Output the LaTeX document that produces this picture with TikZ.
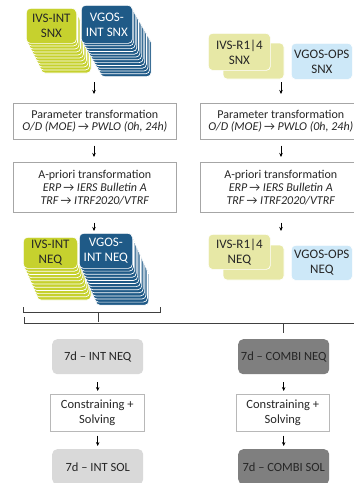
\documentclass[tikz,border=0pt]{standalone}
\usepackage{fontspec}
\setmainfont{Carlito}
\usetikzlibrary{arrows.meta}
\definecolor{limec}{HTML}{C6D12E}
\definecolor{bluec}{HTML}{1F5A87}
\definecolor{palec}{HTML}{E7E8A6}
\definecolor{lbluec}{HTML}{CDE8F8}
\definecolor{lgrayc}{HTML}{D9D9D9}
\definecolor{dgrayc}{HTML}{7F7F7F}
\definecolor{txtc}{HTML}{262626}
\definecolor{brdc}{HTML}{A6A6A6}
\tikzset{
  txt/.style={font=\fontsize{12.5}{14.5}\selectfont, text=txtc, align=center, inner sep=0pt},
  stackbox/.style={txt, font=\fontsize{13}{15}\selectfont, rounded corners=4pt, draw=white, line width=0.7pt, anchor=north west},
  whitebox/.style={txt, draw=brdc, line width=0.6pt, fill=white, anchor=north west},
  grybox/.style={txt, rounded corners=5pt, anchor=north west},
  arr/.style={-{Stealth[length=4pt,width=3.5pt]}, line width=0.6pt, black},
  brk/.style={line width=0.7pt, draw=black!75}
}
\begin{document}
\begin{tikzpicture}[x=1pt,y=-1pt]
\useasboundingbox (0,0) rectangle (354,483);
\clip (0,0) rectangle (354,483);
\fill[white] (0,0) rectangle (354,483);
% ---- top left stacks (SNX)
\foreach \i in {10,...,1}
  \draw[fill=limec, draw=white, line width=0.7pt, rounded corners=4pt] ({26+1.5*\i},{8+3*\i}) rectangle ++(50,35);
\node[stackbox, fill=limec, minimum width=50pt, minimum height=35pt] (ivsintsnx) at (26,8) {IVS-INT\\SNX};
\foreach \i in {12,...,1}
  \draw[fill=bluec, draw=white, line width=0.7pt, rounded corners=4pt] ({81+1.6*\i},{5+2.8*\i}) rectangle ++(51,38);
\node[stackbox, fill=bluec, minimum width=51pt, minimum height=38pt, text=white] (vgosintsnx) at (81,5) {VGOS-\\INT SNX};
% ---- top right SNX
\draw[fill=palec, draw=white, line width=0.7pt, rounded corners=4pt] (223,43) rectangle (284,79);
\node[stackbox, fill=palec, minimum width=62pt, minimum height=37pt] (r14snx) at (208,33) {IVS-R1|4\\SNX};
\node[stackbox, fill=lbluec, minimum width=61pt, minimum height=36pt] (opssnx) at (291,43) {VGOS-OPS\\SNX};
% ---- parameter transformation
\node[whitebox, minimum width=163pt, minimum height=36pt, font=\fontsize{12}{12.5}\selectfont] (paramL) at (13,103) {Parameter transformation\\\textit{O/D (MOE)}\,→ \textit{PWLO (0h, 24h)}};
\node[whitebox, minimum width=161pt, minimum height=36pt, font=\fontsize{12}{12.5}\selectfont] (paramR) at (200,103) {Parameter transformation\\\textit{O/D (MOE)}\,→ \textit{PWLO (0h, 24h)}};
\node[whitebox, minimum width=163pt, minimum height=50pt, font=\fontsize{12}{13}\selectfont] (aprL) at (13,162) {A-priori transformation\\\textit{ERP}\,→ \textit{IERS Bulletin A}\\\textit{TRF}\,→ \textit{ITRF2020/VTRF}};
\node[whitebox, minimum width=161pt, minimum height=50pt, font=\fontsize{12}{13}\selectfont] (aprR) at (200,162) {A-priori transformation\\\textit{ERP}\,→ \textit{IERS Bulletin A}\\\textit{TRF}\,→ \textit{ITRF2020/VTRF}};
% ---- NEQ stacks left
\foreach \i in {10,...,1}
  \draw[fill=limec, draw=white, line width=0.7pt, rounded corners=4pt] ({23+1.4*\i},{237+3.2*\i}) rectangle ++(54,31);
\node[stackbox, fill=limec, minimum width=54pt, minimum height=31pt] (ivsintneq) at (23,237) {IVS-INT\\NEQ};
\foreach \i in {12,...,1}
  \draw[fill=bluec, draw=white, line width=0.7pt, rounded corners=4pt] ({79+1.4*\i},{233+3.1*\i}) rectangle ++(53,35);
\node[stackbox, fill=bluec, minimum width=53pt, minimum height=35pt, text=white] (vgosintneq) at (79,233) {VGOS-\\INT NEQ};
% ---- NEQ right
\draw[fill=palec, draw=white, line width=0.7pt, rounded corners=4pt] (223,245) rectangle (284,280);
\node[stackbox, fill=palec, minimum width=62pt, minimum height=35pt] (r14neq) at (208,234) {IVS-R1|4\\NEQ};
\node[stackbox, fill=lbluec, minimum width=61pt, minimum height=35pt] (opsneq) at (291,245) {VGOS-OPS\\NEQ};
% ---- arrows top
\coordinate (aL1) at (94,82);
\coordinate (aR1) at (281,82);
\coordinate (aL3) at (94,231);
\coordinate (aR3) at (281,231);
\draw[arr, shorten >=9pt] (aL1) -- (paramL.north -| aL1);
\draw[arr, shorten >=9pt] (aR1) -- (paramR.north -| aR1);
\draw[arr, shorten <=6pt, shorten >=5pt] (paramL.south -| aL1) -- (aprL.north -| aL1);
\draw[arr, shorten <=6pt, shorten >=5pt] (paramR.south -| aR1) -- (aprR.north -| aR1);
\draw[arr, shorten <=10pt] (aprL.south -| aL3) -- (aL3);
\draw[arr, shorten <=10pt] (aprR.south -| aR3) -- (aR3);
% ---- brackets
\coordinate (b1l) at (23,307); \coordinate (b1r) at (160,307);
\coordinate (b1m) at (98,322);
\draw[brk] (b1l) -- (23,312) -- (160,312) -- (b1r);
\draw[brk] (98,312) -- (b1m);
\coordinate (b2l) at (24,317); \coordinate (b2r) at (380,317);
\coordinate (b2m) at (283,333);
\draw[brk] (b2l) -- (24,323) -- (380,323) -- (b2r);
\draw[brk] (283,323) -- (b2m);
% ---- bottom boxes
\node[grybox, fill=lgrayc, minimum width=91pt, minimum height=35pt] (intneq) at (52,339) {7d – INT NEQ};
\node[whitebox, draw=brdc!80, minimum width=94pt, minimum height=37pt] (conL) at (50,394) {Constraining +\\Solving};
\node[grybox, fill=lgrayc, minimum width=91pt, minimum height=35pt] (intsol) at (52,449) {7d – INT SOL};
\node[grybox, fill=dgrayc, minimum width=91pt, minimum height=35pt] (combineq) at (238,339) {7d – COMBI NEQ};
\node[whitebox, draw=brdc!80, minimum width=93pt, minimum height=37pt] (conR) at (236,394) {Constraining +\\Solving};
\node[grybox, fill=dgrayc, minimum width=91pt, minimum height=35pt] (combisol) at (238,449) {7d – COMBI SOL};
\draw[arr, shorten <=8pt, shorten >=3pt] (intneq.south) -- (conL.north -| intneq.south);
\draw[arr, shorten <=4pt, shorten >=3pt] (conL.south -| intneq.south) -- (intsol.north);
\draw[arr, shorten <=8pt, shorten >=3pt] (combineq.south) -- (conR.north -| combineq.south);
\draw[arr, shorten <=4pt, shorten >=3pt] (conR.south -| combineq.south) -- (combisol.north);
\end{tikzpicture}
\end{document}
